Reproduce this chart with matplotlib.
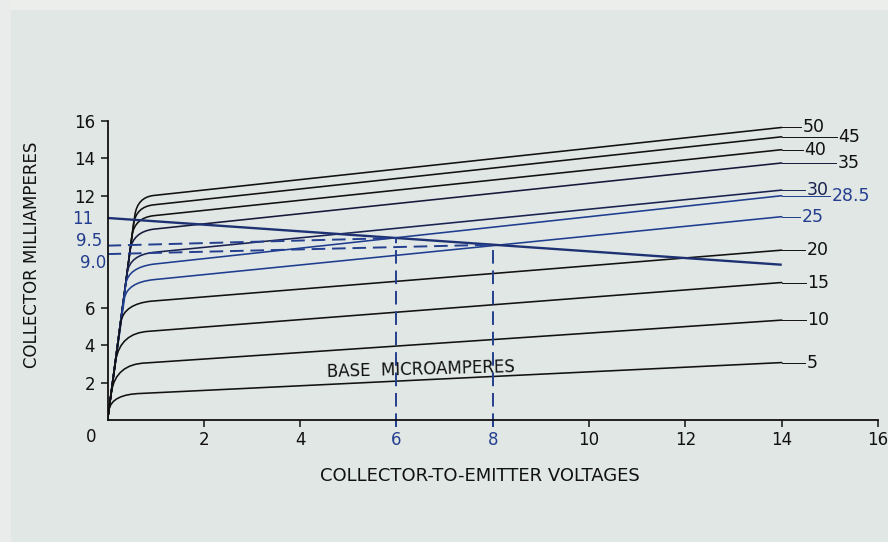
import matplotlib
matplotlib.use("Agg")
import matplotlib.pyplot as plt
from matplotlib.path import Path
from matplotlib.patches import PathPatch, Rectangle

# ---------------- data ----------------
base_labels = ["50", "45", "40", "35", "30", "28.5", "25", "20", "15", "10", "5"]
# point where the steep rise starts to bend
bend_start_v = [0.57, 0.54, 0.51, 0.47, 0.41, 0.38, 0.35, 0.28, 0.17, 0.08, 0.03]
bend_start_i = [11.0, 10.5, 9.9, 9.1, 7.9, 7.3, 6.5, 5.3, 3.2, 1.5, 0.55]
# corner (control point) of the knee
corner_v = [0.63, 0.60, 0.57, 0.53, 0.47, 0.44, 0.41, 0.36, 0.27, 0.17, 0.09]
corner_i = [11.9, 11.4, 10.8, 10.05, 8.82, 8.15, 7.35, 6.2, 4.65, 3.0, 1.38]
# end of the knee (start of the straight part)
knee_end_v = [0.95, 0.95, 0.95, 0.95, 0.95, 0.95, 0.95, 0.90, 0.85, 0.80, 0.70]
knee_end_i = [12.0, 11.5, 10.92, 10.2, 8.96, 8.33, 7.5, 6.35, 4.74, 3.05, 1.42]
# value at the right end of each curve (14 V)
end_v = 14.0
end_i = [15.64, 15.14, 14.45, 13.74, 12.29, 11.99, 10.87, 9.08, 7.35, 5.34, 3.07]
# label column (x where leader line ends)
label_x = [14.41, 15.15, 14.44, 15.13, 14.48, 15.0, 14.38, 14.48, 14.5, 14.5, 14.48]
curve_colors = ["#111111", "#111111", "#111111", "#15183a", "#1a2250", "#1f3d8f",
                "#1f3d8f", "#111111", "#111111", "#111111", "#111111"]

# load line
load_v = [0, 14.0]
load_i = [10.8, 8.3]
# operating points and the dashed projections
op_v = [6, 8]
op_i = [9.73, 9.37]
op_axis_i = [9.32, 8.87]

# blue value labels on the y axis
blue_labels = ["11", "9.5", "9.0"]
blue_label_i = [10.76, 9.56, 8.4]
blue_label_x = [-0.30, -0.10, -0.03]

x_ticks = [2, 4, 6, 8, 10, 12, 14, 16]
y_ticks = [2, 4, 6, 12, 14, 16]

BLUE = "#243f8f"
BG = "#e1e7e5"

plt.rcParams['font.family'] = ['DejaVu Sans']

fig = plt.figure(figsize=(8.88, 5.42), dpi=100)
fig.patch.set_facecolor(BG)
# light scan margins at top and left
fig.add_artist(Rectangle((0, 0.982), 1, 0.018, transform=fig.transFigure,
                         facecolor="#eceeec", edgecolor="none", zorder=0))
fig.add_artist(Rectangle((0, 0), 0.012, 1, transform=fig.transFigure,
                         facecolor="#e9ecea", edgecolor="none", zorder=0))

ax = fig.add_axes([0.1211, 0.2251, 0.8677, 0.5522])
ax.set_facecolor("none")
ax.set_xlim(0, 16)
ax.set_ylim(0, 16)
for s in ["top", "right"]:
    ax.spines[s].set_visible(False)
for s in ["left", "bottom"]:
    ax.spines[s].set_linewidth(1.3)
    ax.spines[s].set_color("#111111")

# characteristic curves
for k in range(len(base_labels)):
    verts = [(0, 0), (bend_start_v[k], bend_start_i[k]), (corner_v[k], corner_i[k]),
             (knee_end_v[k], knee_end_i[k]), (end_v, end_i[k])]
    codes = [Path.MOVETO, Path.LINETO, Path.CURVE3, Path.CURVE3, Path.LINETO]
    ax.add_patch(PathPatch(Path(verts, codes), fill=False, edgecolor=curve_colors[k],
                           lw=1.15, capstyle="round", joinstyle="round"))
    # leader line and label
    ax.plot([end_v, label_x[k]], [end_i[k], end_i[k]], color=curve_colors[k], lw=0.7,
            clip_on=False)
    lab_col = BLUE if base_labels[k] in ("28.5", "25") else "#111111"
    if base_labels[k] == "30":
        lab_col = "#1a2250"
    ax.text(label_x[k] + 0.03, end_i[k], base_labels[k], fontsize=12.5, color=lab_col,
            ha="left", va="center", clip_on=False)

# load line
ax.plot(load_v, load_i, color="#1e3273", lw=1.7, solid_capstyle="butt")

# dashed projections
for v, i, i0 in zip(op_v, op_i, op_axis_i):
    ax.plot([0, v], [i0, i], color=BLUE, lw=1.4, dashes=(7, 3.5))
    ax.plot([v, v], [-0.35, i], color=BLUE, lw=1.4, dashes=(7, 3.5), clip_on=False)

# ticks
ax.set_xticks(x_ticks)
ax.set_xticklabels([str(t) for t in x_ticks])
ax.set_yticks(y_ticks)
ax.set_yticklabels([str(t) for t in y_ticks])
ax.tick_params(axis="both", direction="out", length=5, width=1.1, color="#111111",
               labelsize=12, labelcolor="#111111", pad=4)
ax.tick_params(axis="x", pad=3)
for lbl in ax.get_xticklabels():
    if lbl.get_text() in ("6", "8"):
        lbl.set_color(BLUE)
ax.annotate("0", xy=(0, 0), xytext=(-12, -12), textcoords="offset points",
            ha="center", va="center", fontsize=12, color="#111111")

for t, yi, xv in zip(blue_labels, blue_label_i, blue_label_x):
    ax.text(xv, yi, t, color=BLUE, fontsize=12, ha="right", va="center", clip_on=False)

ax.text(6.5, 2.72, "BASE  MICROAMPERES", fontsize=12, ha="center", va="center",
        rotation=1.5, color="#111111")

fig.text(0.036, 0.5295, "COLLECTOR MILLIAMPERES", rotation=90, fontsize=12,
         ha="center", va="center", color="#111111")
fig.text(0.5405, 0.1218, "COLLECTOR-TO-EMITTER VOLTAGES", fontsize=13,
         ha="center", va="center", color="#111111")

fig.savefig("out.png", dpi=100, facecolor=BG)
